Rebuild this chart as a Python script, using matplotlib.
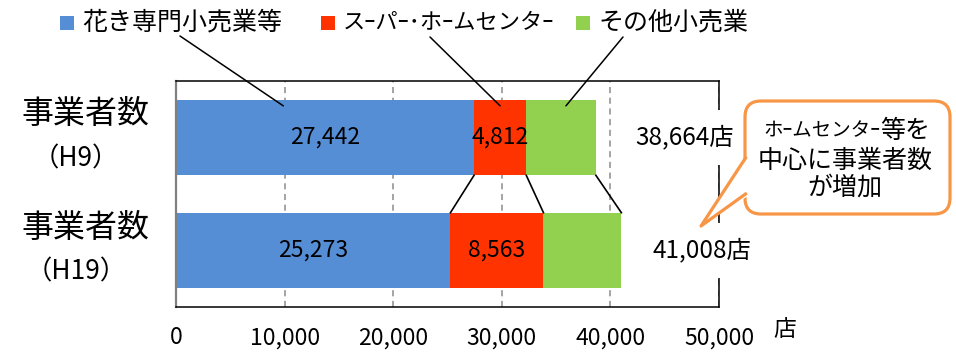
import matplotlib
matplotlib.use('Agg')
import matplotlib.pyplot as plt
from matplotlib.patches import FancyBboxPatch, Polygon, Rectangle
from matplotlib.lines import Line2D
from matplotlib.transforms import Affine2D

plt.rcParams['font.family'] = ['Noto Sans CJK JP', 'DejaVu Sans']

# ---- data ----
periods = ['事業者数', '事業者数']
period_sub = ['（H9）', '（H19）']
series_names = ['花き専門小売業等', 'スｰパｰ･ホｰムセンタｰ', 'その他小売業']
series_fs = [18, 16, 18]
florist = [27442, 25273]
super_home = [4812, 8563]
other = [6410, 7172]
totals = [38664, 41008]
show_labels = [True, True, False]
xticks = [0, 10000, 20000, 30000, 40000, 50000]
xtick_labels = ['0', '10,000', '20,000', '30,000', '40,000', '50,000']
unit = '店'
callout_l1a = 'ホｰムセンタｰ'
callout_l1b = '等を'
callout_rest = '中心に事業者数\nが増加'
colors = ['#558ED5', '#FF3300', '#92D050']

W, H = 956, 354
fig = plt.figure(figsize=(W / 100, H / 100), dpi=100)
PX = Affine2D().scale(1 / W, -1 / H).translate(0, 1) + fig.transFigure

ax = fig.add_axes([176 / W, 1 - 307 / H, (719 - 176) / W, (307 - 81) / H])

ypos = [1, 0]
bh = 0.67
series = [florist, super_home, other]
left = [0, 0]
bounds = []
for s, vals in enumerate(series):
    ax.barh(ypos, vals, left=left, height=bh, color=colors[s], zorder=2)
    for i in range(2):
        if show_labels[s]:
            ax.text(left[i] + vals[i] / 2, ypos[i], f'{vals[i]:,}', ha='center', va='center',
                    fontsize=16.5, zorder=4)
    left = [left[i] + vals[i] for i in range(2)]
    bounds.append(list(left))

# series connector lines
for b in bounds:
    ax.plot([b[0], b[1]], [ypos[0] - bh / 2, ypos[1] + bh / 2], color='black', lw=1.2, zorder=3)

# totals
for i in range(2):
    xoff = [46800, 48450][i]
    ax.text(xoff, ypos[i], f'{totals[i]:,}店', ha='center', va='center', fontsize=17.5,
            zorder=5, clip_on=False,
            bbox=dict(boxstyle='square,pad=0.6', fc='white', ec='none'))

ax.set_xlim(0, 50000)
ax.set_ylim(-0.5, 1.5)
ax.set_xticks(xticks)
ax.set_xticklabels(xtick_labels, fontsize=16.5)
ax.set_yticks([])
ax.tick_params(axis='x', length=0, pad=14)
ax.grid(axis='x', color='#8C8C8C', ls=(0, (4, 3)), lw=1.1, zorder=1)
ax.set_axisbelow(True)
for sp in ax.spines.values():
    sp.set_color('black')
    sp.set_linewidth(1.1)
ax.spines['left'].set_color('#808080')
ax.spines['left'].set_linewidth(1.6)

# period labels
for i in range(2):
    ax.annotate(periods[i], xy=(0, ypos[i]), xycoords=('axes fraction', 'data'),
                xytext=(85 - 176, 23), textcoords='offset pixels', ha='center', va='center',
                fontsize=23, annotation_clip=False)
    ax.annotate(period_sub[i], xy=(0, ypos[i]), xycoords=('axes fraction', 'data'),
                xytext=(76 - 176, -21), textcoords='offset pixels', ha='center', va='center',
                fontsize=19, annotation_clip=False)

fig.text(785, 330, unit, transform=PX, fontsize=16.5, ha='center', va='center')

# legend
leg_x = [60, 321, 576]
for k in range(3):
    fig.patches.append(Rectangle((leg_x[k], 16), 14, 14, transform=PX, fc=colors[k], ec='none'))
    fig.text(leg_x[k] + 22, 23, series_names[k], transform=PX, fontsize=series_fs[k],
             ha='left', va='center')

# leader lines from legend to bars
frac = [0.36, 0.5, 0.57]
starts = [(180, 36), (430, 37), (623, 37)]
seg_left = [0, florist[0], florist[0] + super_home[0]]
for k in range(3):
    xd = seg_left[k] + frac[k] * series[k][0]
    ax.annotate('', xy=(xd, ypos[0] + 0.28), xycoords='data',
                xytext=starts[k], textcoords=PX,
                arrowprops=dict(arrowstyle='-', color='black', lw=1.1, shrinkA=0, shrinkB=0),
                annotation_clip=False)

# callout
orange = '#F79646'
box = FancyBboxPatch((745, 101), 205, 113, boxstyle='round,pad=0,rounding_size=16',
                     transform=PX, fc='white', ec=orange, lw=2.3)
fig.patches.append(box)
fig.patches.append(Polygon([(748, 157), (748, 196), (701, 225)], closed=True, transform=PX,
                           fc='white', ec='none'))
fig.lines.append(Line2D([745.5, 701, 745.5], [158, 226, 194], transform=PX, color=orange,
                        lw=2.3, solid_joinstyle='round'))
fig.text(880, 131, callout_l1a, transform=PX, fontsize=14, ha='right', va='center')
fig.text(880, 131, callout_l1b, transform=PX, fontsize=18, ha='left', va='center')
fig.text(845, 174, callout_rest, transform=PX, fontsize=18, ha='center', va='center',
         linespacing=1.05)

fig.savefig('out.png', dpi=100)
